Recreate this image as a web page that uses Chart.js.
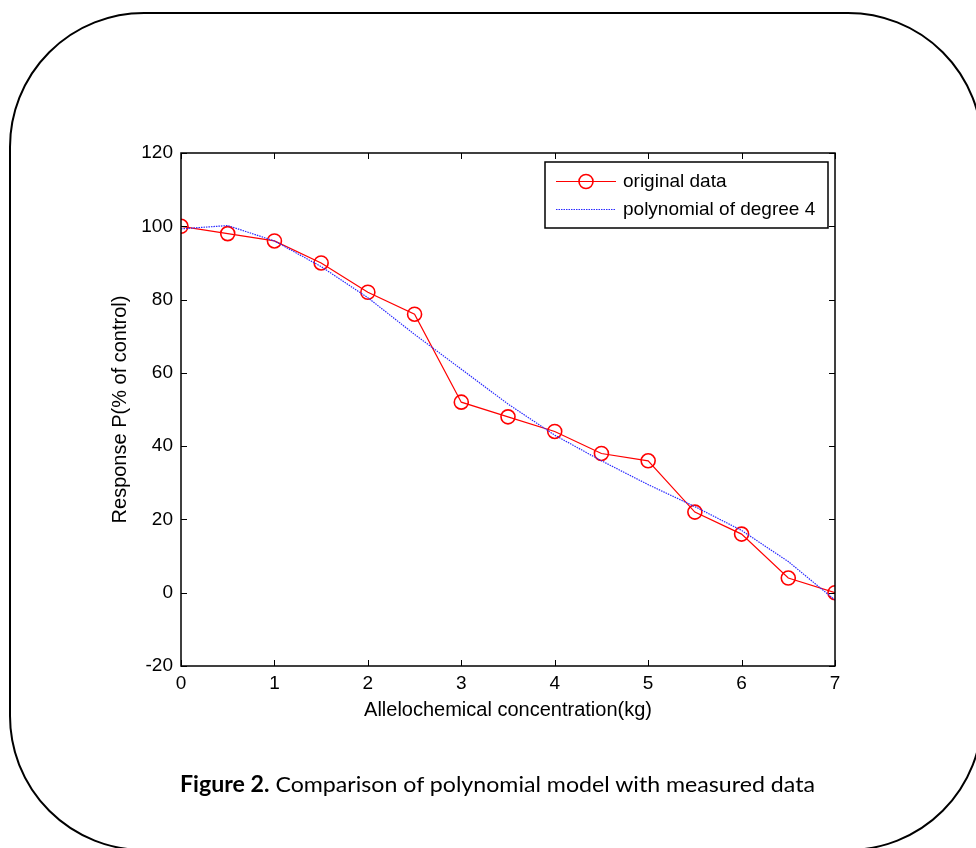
<!DOCTYPE html>
<html>
<head>
<meta charset="utf-8">
<script src="https://cdn.jsdelivr.net/npm/chart.js@4.4.1/dist/chart.umd.min.js"></script>
<style>
  html, body { margin: 0; padding: 0; background: #fff; }
  body { width: 976px; height: 848px; position: relative; overflow: hidden; }
  #frame {
    position: absolute; left: 9px; top: 12px; width: 974px; height: 839px;
    border: 2px solid #000; border-radius: 135px; box-sizing: border-box;
  }
  #myChart { position: absolute; left: 0; top: 0; }
  #caption {
    position: absolute; left: 180px; top: 770px; white-space: nowrap;
    font-family: Lato, "Open Sans", sans-serif; font-size: 22px; color: #000;
    transform-origin: left top; display: inline-block;
  }
  #caption b { font-weight: 700; }
</style>
</head>
<body>
<div id="frame"></div>
<canvas id="myChart" width="976" height="848"></canvas>
<div id="caption"><b>Figure 2.</b> Comparison of polynomial model with measured data</div>
<script>
// concentration (kg)
var xValues = [0, 0.5, 1, 1.5, 2, 2.5, 3, 3.5, 4, 4.5, 5, 5.5, 6, 6.5, 7];
// measured response, % of control
var originalData = [100, 98, 96, 90, 82, 76, 52, 48, 44, 38, 36, 22, 16, 4, 0];
// degree-4 polynomial fit
var polyData = [99.3, 100.2, 96, 89, 80.5, 70.5, 61, 51.5, 43, 36, 29.5, 23.5, 17, 8.5, -2];
var xTicks = [0, 1, 2, 3, 4, 5, 6, 7];
var yTicks = [-20, 0, 20, 40, 60, 80, 100, 120];
var seriesNames = ["original data", "polynomial of degree 4"];

function toPoints(ys) {
    return xValues.map(function (x, i) { return { x: x, y: ys[i] }; });
}

// MATLAB-like box with ticks pointing inward
var boxPlugin = {
    id: "box",
    afterDatasetsDraw: function (chart) {
        var ctx = chart.ctx, a = chart.chartArea;
        var xs = chart.scales.x, ys = chart.scales.y;
        var tl = 6;
        ctx.save();
        ctx.strokeStyle = "#000";
        ctx.lineWidth = 1.5;
        ctx.strokeRect(a.left, a.top, a.right - a.left, a.bottom - a.top);
        ctx.lineWidth = 1;
        ctx.beginPath();
        xTicks.forEach(function (v) {
            var px = Math.round(xs.getPixelForValue(v)) + 0.5;
            ctx.moveTo(px, a.bottom); ctx.lineTo(px, a.bottom - tl);
            ctx.moveTo(px, a.top); ctx.lineTo(px, a.top + tl);
        });
        yTicks.forEach(function (v) {
            var py = Math.round(ys.getPixelForValue(v)) + 0.5;
            ctx.moveTo(a.left, py); ctx.lineTo(a.left + tl, py);
            ctx.moveTo(a.right, py); ctx.lineTo(a.right - tl, py);
        });
        ctx.stroke();

        // legend box
        var lx = 545, ly = 162, lw = 283, lh = 66;
        ctx.fillStyle = "#fff";
        ctx.fillRect(lx, ly, lw, lh);
        ctx.lineWidth = 1.5;
        ctx.strokeRect(lx, ly, lw, lh);
        var rows = [ly + 19, ly + 47];
        var dsets = chart.data.datasets;
        ctx.font = "19px 'Liberation Sans', Arial, sans-serif";
        ctx.textBaseline = "middle";
        ctx.textAlign = "left";
        rows.forEach(function (ry, i) {
            var d = dsets[i];
            ctx.strokeStyle = d.borderColor;
            ctx.lineWidth = d.borderWidth;
            ctx.setLineDash(d.borderDash || []);
            ctx.beginPath();
            ctx.moveTo(556, ry + 0.5); ctx.lineTo(616, ry + 0.5);
            ctx.stroke();
            ctx.setLineDash([]);
            if (d.pointRadius > 0) {
                ctx.lineWidth = d.pointBorderWidth;
                ctx.beginPath();
                ctx.arc(586, ry + 0.5, d.pointRadius, 0, Math.PI * 2);
                ctx.stroke();
            }
            ctx.fillStyle = "#000";
            ctx.fillText(seriesNames[i], 623, ry + 1);
        });
        ctx.restore();
    }
};

var chart = new Chart("myChart", {
    type: "line",
    data: {
        datasets: [{
            label: seriesNames[0],
            data: toPoints(originalData),
            borderColor: "#ff0000",
            borderWidth: 1.2,
            pointRadius: 7,
            pointStyle: "circle",
            pointBorderColor: "#ff0000",
            pointBackgroundColor: "rgba(0,0,0,0)",
            pointBorderWidth: 1.6,
            tension: 0,
            order: 1
        }, {
            label: seriesNames[1],
            data: toPoints(polyData),
            borderColor: "#2a2aff",
            borderWidth: 1.2,
            borderDash: [1.5, 1],
            pointRadius: 0,
            tension: 0,
            order: 0
        }]
    },
    plugins: [boxPlugin],
    options: {
        responsive: false,
        animation: false,
        events: [],
        layout: { padding: { left: 0, top: 153, right: 141, bottom: 122 } },
        plugins: { legend: { display: false }, tooltip: { enabled: false } },
        scales: {
            x: {
                type: "linear", min: 0, max: 7,
                afterFit: function (s) { s.height = 60; },
                afterBuildTicks: function (s) { s.ticks = xTicks.map(function (v) { return { value: v }; }); },
                grid: { display: false, drawTicks: false, tickLength: 0 },
                border: { display: false },
                ticks: { color: "#000", padding: 6, maxRotation: 0, font: { family: "'Liberation Sans', Arial", size: 19 } },
                title: { display: true, text: "Allelochemical concentration(kg)", color: "#000",
                         padding: { top: 0, bottom: 4 }, font: { family: "'Liberation Sans', Arial", size: 20 } }
            },
            y: {
                type: "linear", min: -20, max: 120,
                afterFit: function (s) { s.width = 181; },
                afterBuildTicks: function (s) { s.ticks = yTicks.map(function (v) { return { value: v }; }); },
                grid: { display: false, drawTicks: false, tickLength: 0 },
                border: { display: false },
                ticks: { color: "#000", padding: 8, font: { family: "'Liberation Sans', Arial", size: 19 } },
                title: { display: true, text: "Response P(% of control)", color: "#000",
                         padding: { top: 108, bottom: 0 }, font: { family: "'Liberation Sans', Arial", size: 20 } }
            }
        }
    }
});

// stretch caption to the width it has in the figure
var cap = document.getElementById("caption");
var w = cap.getBoundingClientRect().width;
cap.style.transform = "scaleX(" + (635 / w) + ")";
</script>
</body>
</html>
